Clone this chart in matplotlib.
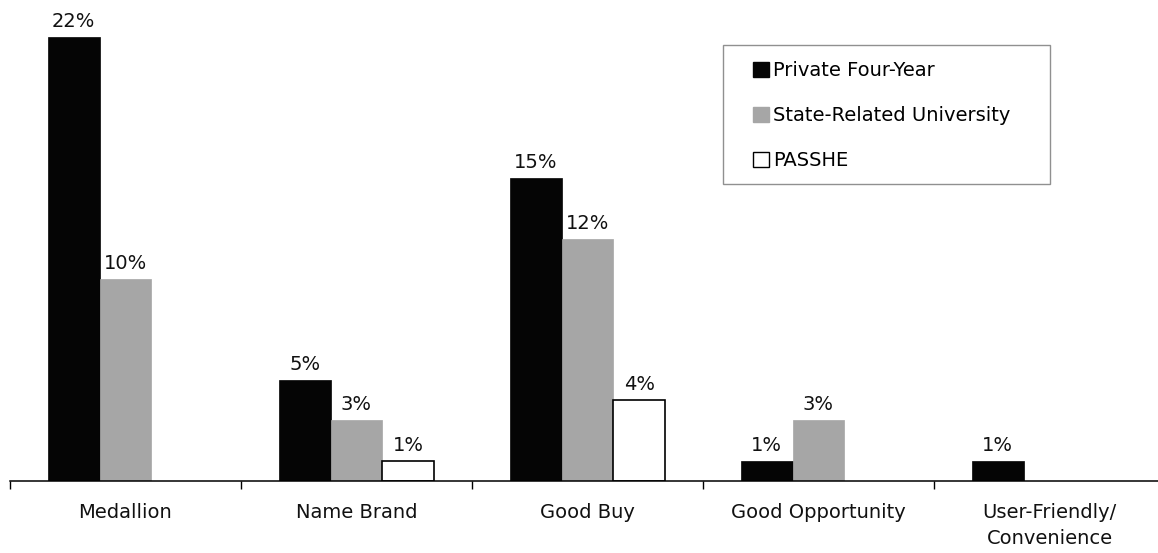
import matplotlib.pyplot as plt
import numpy as np
from matplotlib.patches import Patch, Rectangle

categories = ["Medallion", "Name Brand", "Good Buy", "Good Opportunity", "User-Friendly/\nConvenience"]
series = ["Private Four-Year", "State-Related University", "PASSHE"]
private_four_year = [22, 5, 15, 1, 1]
state_related = [10, 3, 12, 3, np.nan]
passhe = [np.nan, 1, 4, np.nan, np.nan]

values = [private_four_year, state_related, passhe]
faces = ["#050505", "#a6a6a6", "white"]
edges = ["#050505", "#a6a6a6", "black"]

plt.rcParams["font.family"] = ["DejaVu Sans"]
FS = 14

fig = plt.figure(figsize=(11.58, 5.53), dpi=100)
ax = fig.add_axes([10 / 1158, 72 / 553, 1155 / 1158, 481 / 553])

x = np.arange(len(categories))
w = 0.224
for i, (vals, fc, ec) in enumerate(zip(values, faces, edges)):
    vals = np.array(vals, dtype=float)
    pos = x + (i - 1) * w
    keep = ~np.isnan(vals)
    ax.bar(pos[keep], vals[keep], width=w, color=fc, edgecolor=ec,
           linewidth=1.2 if fc == "white" else 0.5, zorder=2)
    for p, v in zip(pos[keep], vals[keep]):
        ax.text(p, v + 0.3, f"{v:.0f}%", ha="center", va="bottom", fontsize=FS, color="#111111")

ax.set_xlim(-0.5, 4.5)
ax.set_ylim(0, 23.83)
ax.set_yticks([])
for s in ["top", "right", "left"]:
    ax.spines[s].set_visible(False)
ax.spines["bottom"].set_linewidth(1.1)

ax.set_xticks(np.arange(-0.5, 5.0, 1.0))
ax.set_xticklabels([])
ax.tick_params(axis="x", length=6, width=1.0, direction="out")
ax.set_xticks(x, minor=True)
ax.set_xticklabels(categories, minor=True, fontsize=FS, color="#111111", linespacing=1.45)
ax.tick_params(axis="x", which="minor", length=0, pad=16)

# legend box drawn separately so the inner padding can match the reference
fig.patches.append(Rectangle((723 / 1158, 1 - 184 / 553), 327 / 1158, 139 / 553,
                             transform=fig.transFigure, facecolor="white",
                             edgecolor="#909090", linewidth=1.0, zorder=3))
handles = [Patch(facecolor=fc, edgecolor=ec, linewidth=1.0) for fc, ec in zip(faces, edges)]
leg = fig.legend(handles, series, loc="upper left", bbox_to_anchor=(753 / 1158, 1 - 61 / 553),
                 fontsize=FS, frameon=False, handlelength=0.8, handleheight=0.8,
                 handletextpad=0.25, labelspacing=1.35, borderpad=0, borderaxespad=0)
leg.set_zorder(4)

fig.savefig("out.png", dpi=100)
